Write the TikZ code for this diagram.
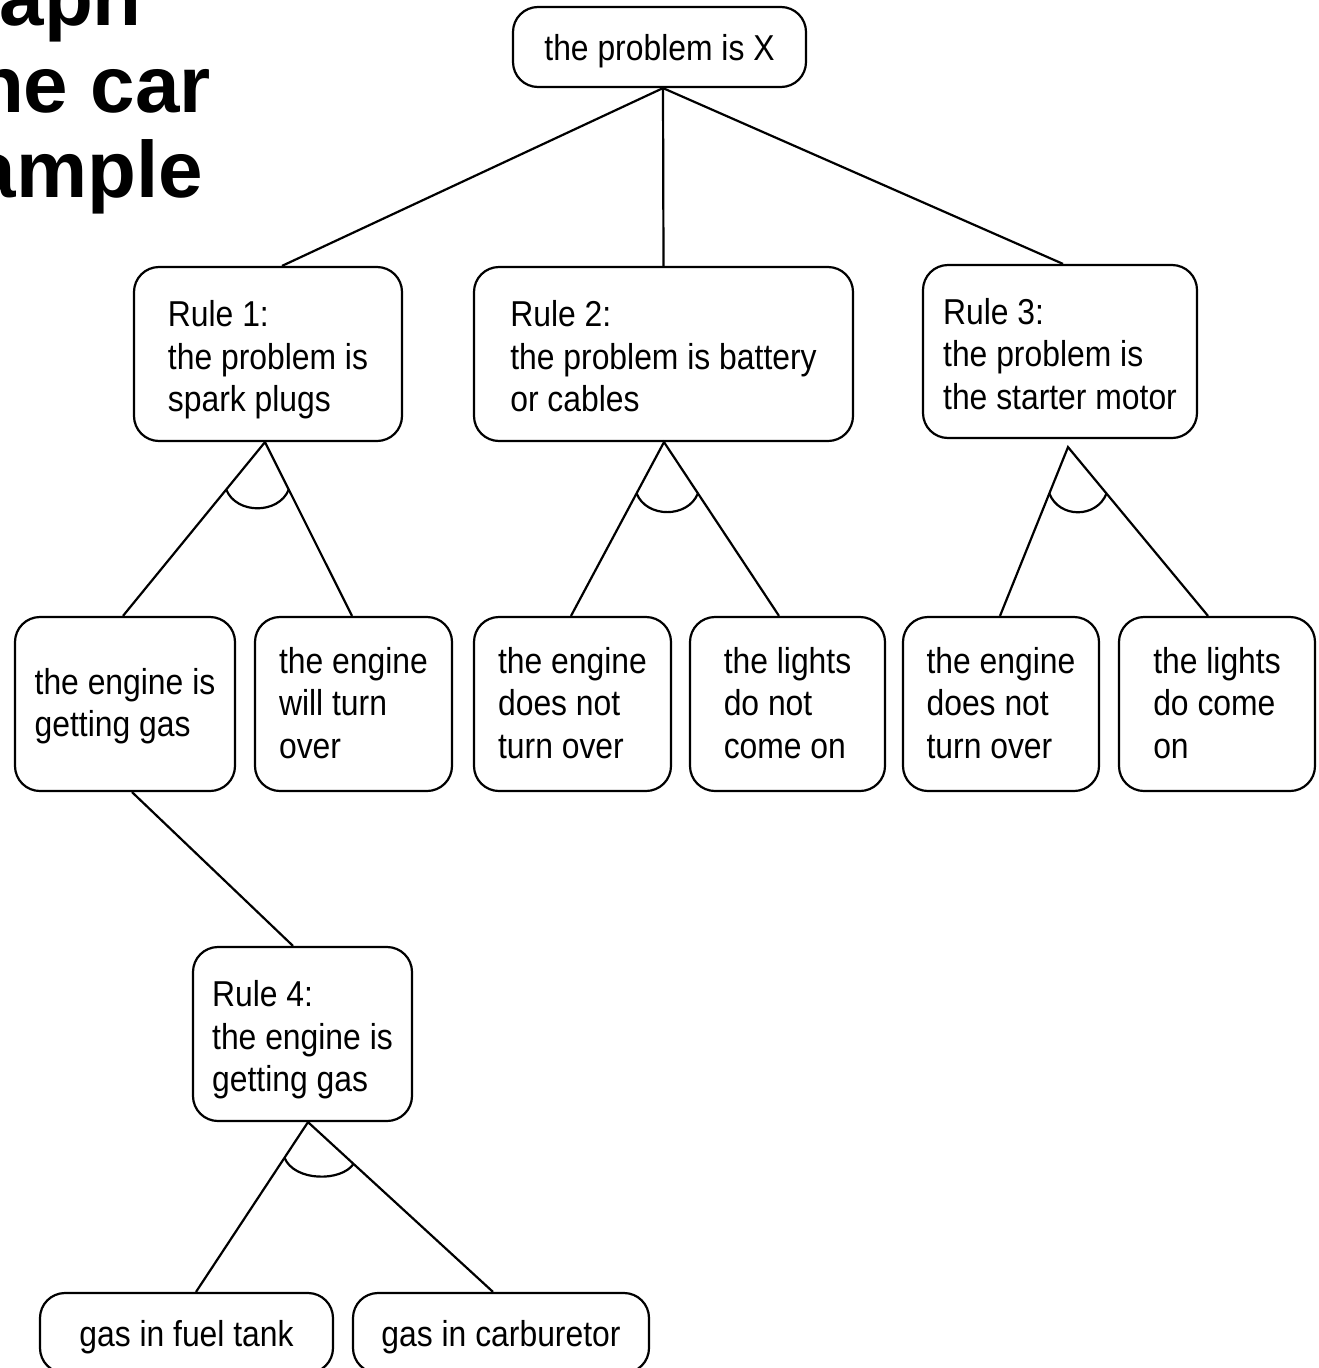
\documentclass[tikz,border=0pt]{standalone}
\usepackage{fontspec}
\setmainfont{Liberation Sans}[FakeStretch=0.885]
\newfontfamily\headfont{Liberation Sans}
\usetikzlibrary{calc}
% first-line struts that set where text sits inside a box
\newcommand\tallline{\rule{0pt}{38pt}}
\newcommand\rowline{\rule{0pt}{31pt}}
\newcommand\oneline{\rule{0pt}{34.5pt}}
\begin{document}
\begin{tikzpicture}[x=1pt,y=-1pt,
  box/.style={draw, line width=2.2pt, rounded corners=25pt, inner sep=0pt,
    align=left, font=\fontsize{36}{42.5}\selectfont,
    execute at end node={\rule[-8pt]{0pt}{8pt}}},
  link/.style={line width=2.2pt},
  head/.style={inner sep=0pt, anchor=base east,
    font=\headfont\bfseries\fontsize{80}{86}\selectfont}]
\useasboundingbox (0,0) rectangle (1319,1368);
\clip (0,0) rectangle (1319,1368);

% heading (runs off the left edge)
\node[head] (h1) at (142,25) {aph};
\node[head] (h2) at (211,112) {he car};
\node[head] (h3) at (203,197) {ample};

% goal
\node[box, minimum width=293pt, minimum height=80pt] (top) at (659.5,47) {\oneline the problem is X};

% rules
\node[box, minimum width=268pt, minimum height=174pt] (r1) at (268,354)
  {\tallline Rule 1:\\the problem is\\spark plugs};
\node[box, minimum width=379pt, minimum height=174pt] (r2) at (663.5,354)
  {\tallline Rule 2:\\the problem is battery\\or cables};
\node[box, minimum width=274pt, minimum height=173pt] (r3) at (1060,351.5)
  {\tallline Rule 3:\\the problem is\\the starter motor};
\node[box, minimum width=219pt, minimum height=174pt] (r4) at (302.5,1034)
  {\tallline Rule 4:\\the engine is\\getting gas};

% conditions
\node[box, minimum width=220pt, minimum height=174pt] (n1) at (125,704)
  {\rowline the engine is\\getting gas};
\node[box, minimum width=197pt, minimum height=174pt] (n2) at (353.5,704)
  {\rowline the engine\\will turn\\over};
\node[box, minimum width=197pt, minimum height=174pt] (n3) at (572.5,704)
  {\rowline the engine\\does not\\turn over};
\node[box, minimum width=195pt, minimum height=174pt] (n4) at (787.5,704)
  {\rowline the lights\\do not\\come on};
\node[box, minimum width=196pt, minimum height=174pt] (n5) at (1001,704)
  {\rowline the engine\\does not\\turn over};
\node[box, minimum width=196pt, minimum height=174pt] (n6) at (1217,704)
  {\rowline the lights\\do come\\on};
\node[box, minimum width=293pt, minimum height=80pt] (g1) at (186.5,1333)
  {\oneline gas in fuel tank};
\node[box, minimum width=296pt, minimum height=80pt] (g2) at (501,1333)
  {\oneline gas in carburetor};

% connector end points
\coordinate (topA) at ([xshift=3.5pt]top.south);
\coordinate (r1t) at ([xshift=14pt]r1.north);
\coordinate (r2t) at (r2.north);
\coordinate (r3t) at ([xshift=3pt]r3.north);
\coordinate (r1a) at ([xshift=-3pt]r1.south);
\coordinate (r2a) at ([xshift=0.5pt]r2.south);
\coordinate (r3a) at ([xshift=8pt,yshift=-8pt]r3.south);
\coordinate (r4a) at ([xshift=5.5pt]r4.south);
\coordinate (n1t) at ([xshift=-2pt]n1.north);
\coordinate (n2t) at ([xshift=-1.5pt]n2.north);
\coordinate (n3t) at ([xshift=-1.5pt]n3.north);
\coordinate (n4t) at ([xshift=-8.5pt]n4.north);
\coordinate (n5t) at ([xshift=-1pt]n5.north);
\coordinate (n6t) at ([xshift=-9pt]n6.north);
\coordinate (n1b) at ([xshift=7pt]n1.south);
\coordinate (r4t) at ([xshift=-9.5pt]r4.north);
\coordinate (g1t) at ([xshift=9.5pt]g1.north);
\coordinate (g2t) at ([xshift=-8pt]g2.north);

% or-links from the goal
\draw[link] (r1t) -- (topA) -- (r3t);
\draw[link] (topA) -- (r2t);

% and-links below each rule
\draw[link] (n1t) -- (r1a) -- (n2t);
\draw[link] (n3t) -- (r2a) -- (n4t);
\draw[link] (n5t) -- (r3a) -- (n6t);
\draw[link] (g1t) -- (r4a) -- (g2t);
\draw[link] (n1b) -- (r4t);

% arcs marking the conjunctions
\draw[link] ($(r1a)!0.273!(n1t)$) .. controls +(10,25) and +(-10,25) .. ($(r1a)!0.273!(n2t)$);
\draw[link] ($(r2a)!0.295!(n3t)$) .. controls +(10,25) and +(-10,25) .. ($(r2a)!0.295!(n4t)$);
\draw[link] ($(r3a)!0.275!(n5t)$) .. controls +(10,25) and +(-10,25) .. ($(r3a)!0.275!(n6t)$);
\draw[link] ($(r4a)!0.21!(g1t)$) .. controls +(10,24) and +(-12,18) .. ($(r4a)!0.246!(g2t)$);
\end{tikzpicture}
\end{document}
